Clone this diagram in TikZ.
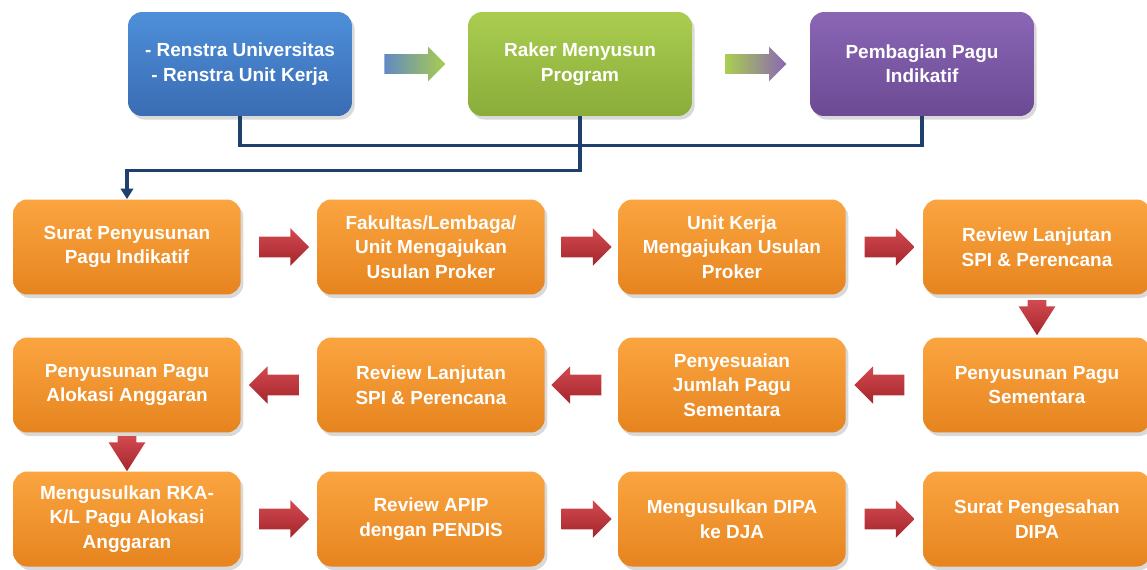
\documentclass[tikz,border=0pt]{standalone}
\usepackage{fontspec}
\setmainfont{Liberation Sans}
\usetikzlibrary{shapes.arrows,shadows,arrows.meta}
\definecolor{bluT}{HTML}{4E8FDA}
\definecolor{bluB}{HTML}{3A6CB2}
\definecolor{grnT}{HTML}{AACD50}
\definecolor{grnB}{HTML}{8AAC3A}
\definecolor{purT}{HTML}{8A66B5}
\definecolor{purB}{HTML}{6C4A93}
\definecolor{orgT}{HTML}{FBA540}
\definecolor{orgB}{HTML}{E6841F}
\definecolor{redT}{HTML}{D34A50}
\definecolor{redB}{HTML}{A3262C}
\definecolor{navy}{HTML}{1F3F6D}
\begin{document}
\begin{tikzpicture}[x=0.02cm, y=-0.02cm,
	box/.style={rounded corners=8pt, align=center, text=white, inner sep=2pt,
		font=\bfseries\fontsize{10.8}{13.9}\selectfont,
		drop shadow={shadow xshift=1.5pt, shadow yshift=-2pt, opacity=0.3}},
	topbox/.style={box, minimum width=4.48cm, minimum height=2.08cm},
	orgbox/.style={box, top color=orgT, bottom color=orgB, minimum width=4.55cm, minimum height=1.9cm},
	garr/.style={single arrow, draw=none, inner xsep=0pt, inner ysep=0.19cm, minimum height=1.22cm, single arrow head extend=0.15cm},
	redarr/.style={single arrow, draw=none, top color=redT, bottom color=redB, single arrow head extend=0.17cm},
	toright/.style={inner xsep=0pt, inner ysep=0.2cm, minimum height=1.0cm},
	toleft/.style={toright, shape border rotate=180},
	todown/.style={inner ysep=0pt, inner xsep=0.18cm, minimum height=0.7cm, single arrow head extend=0.18cm,
		single arrow tip angle=65, shape border rotate=270, yshift=3.2pt},
	conn/.style={draw=navy, line width=1.8pt}]
	\useasboundingbox (0,0) rectangle (1147,569);
	\node[topbox, top color=bluT, bottom color=bluB] (renstra) at (240,64) {- Renstra Universitas\\- Renstra Unit Kerja};
	\node[topbox, top color=grnT, bottom color=grnB] (raker) at (580,64) {Raker Menyusun\\Program};
	\node[topbox, top color=purT, bottom color=purB] (pembagian) at (922,64) {Pembagian Pagu\\Indikatif};
	\path (renstra) -- node[garr, left color=bluB!80!white, right color=grnT]{} (raker);
	\path (raker) -- node[garr, left color=grnT, right color=purT]{} (pembagian);

	\node[orgbox] (surat) at (127,247) {Surat Penyusunan\\Pagu Indikatif};
	\node[orgbox] (fakultas) at (431,247) {Fakultas/Lembaga/\\Unit Mengajukan\\Usulan Proker};
	\node[orgbox] (unitkerja) at (732,247) {Unit Kerja\\Mengajukan Usulan\\Proker};
	\node[orgbox] (review1) at (1037,247) {Review Lanjutan\\SPI \& Perencana};
	\node[orgbox] (alokasi) at (127,385) {Penyusunan Pagu\\Alokasi Anggaran};
	\node[orgbox] (review2) at (431,385) {Review Lanjutan\\SPI \& Perencana};
	\node[orgbox] (sesuai) at (732,385) {Penyesuaian\\Jumlah Pagu\\Sementara};
	\node[orgbox] (pagusem) at (1037,385) {Penyusunan Pagu\\Sementara};
	\node[orgbox] (rka) at (127,519) {Mengusulkan RKA-\\K/L Pagu Alokasi\\Anggaran};
	\node[orgbox] (apip) at (431,519) {Review APIP\\dengan PENDIS};
	\node[orgbox] (dipa) at (732,519) {Mengusulkan DIPA\\ke DJA};
	\node[orgbox] (sahkan) at (1037,519) {Surat Pengesahan\\DIPA};

	\draw[conn] (renstra.south) -- ++(0,29) -| (pembagian.south);
	\draw[conn, -{Triangle[width=7pt,length=6pt]}] (raker.south) -- ++(0,54) -| (surat.north);

	\foreach \a/\b/\d in {surat/fakultas/toright, fakultas/unitkerja/toright, unitkerja/review1/toright,
		review1/pagusem/todown, pagusem/sesuai/toleft, sesuai/review2/toleft, review2/alokasi/toleft,
		alokasi/rka/todown, rka/apip/toright, apip/dipa/toright, dipa/sahkan/toright}
		\path (\a) -- node[redarr, \d]{} (\b);
\end{tikzpicture}
\end{document}
